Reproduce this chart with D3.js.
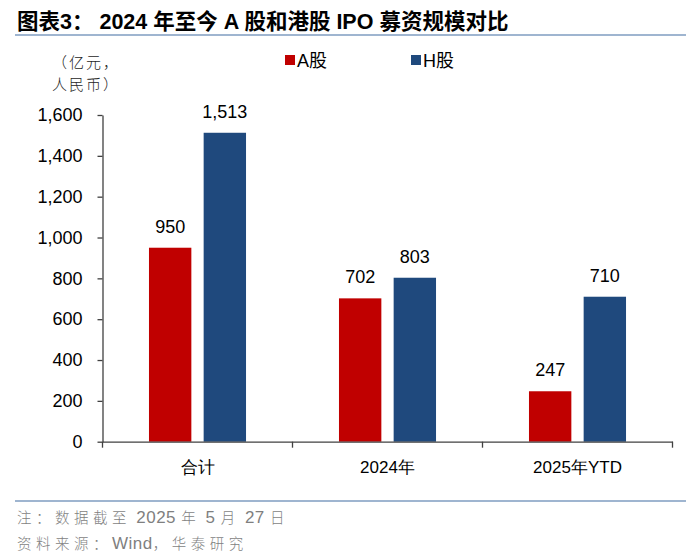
<!DOCTYPE html>
<html>
<head>
<meta charset="utf-8">
<script src="https://cdn.jsdelivr.net/npm/d3@7"></script>
<style>
  body { margin: 0; background: #fff; }
  svg { display: block; font-family: "Liberation Sans", Arial, "Noto Sans CJK SC", sans-serif; }
  .cjk { font-family: "Noto Sans CJK SC", sans-serif; }
</style>
</head>
<body>
<div id="chart"></div>
<script>
// data
const categories = ["合计", "2024年", "2025年YTD"];
const series = ["A股", "H股"];
const aShare = [950, 702, 247];
const hShare = [1513, 803, 710];
const yTicks = [0, 200, 400, 600, 800, 1000, 1200, 1400, 1600];
const colors = ["#C00000", "#1F497D"];

const width = 700, height = 560;
const margin = { top: 115, right: 27.5, bottom: 118.3, left: 102.5 };

const svg = d3.select("#chart")
  .append("svg")
  .attr("width", width)
  .attr("height", height);

// title + rule
svg.append("text")
  .attr("x", 17)
  .attr("y", 29)
  .style("font-size", "21.5px")
  .style("font-weight", "bold")
  .text("图表3：  2024 年至今 A 股和港股 IPO 募资规模对比");

svg.append("line")
  .attr("x1", 15).attr("x2", 686)
  .attr("y1", 35).attr("y2", 35)
  .attr("stroke", "#7f9cc0")
  .attr("stroke-width", 1.5);

// scales
const x = d3.scaleBand()
  .domain(categories)
  .range([margin.left, width - margin.right]);

const x1 = d3.scaleBand()
  .domain(series)
  .range([0, x.bandwidth()])
  .paddingInner(0.225)
  .paddingOuter(0.85);

const y = d3.scaleLinear()
  .domain([0, 1600])
  .range([height - margin.bottom, margin.top]);

// bars
const rows = categories.map((c, i) => ({ cat: c, vals: [aShare[i], hShare[i]] }));

const group = svg.append("g")
  .selectAll("g")
  .data(rows)
  .join("g")
  .attr("transform", d => `translate(${x(d.cat)},0)`);

group.selectAll("rect")
  .data(d => d.vals.map((v, j) => ({ key: series[j], v, j })))
  .join("rect")
  .attr("x", d => x1(d.key))
  .attr("width", x1.bandwidth())
  .attr("y", d => y(d.v))
  .attr("height", d => y(0) - y(d.v))
  .attr("fill", d => colors[d.j]);

group.selectAll("text.val")
  .data(d => d.vals.map((v, j) => ({ key: series[j], v })))
  .join("text")
  .attr("class", "val")
  .attr("x", d => x1(d.key) + x1.bandwidth() / 2)
  .attr("y", d => y(d.v) - 15)
  .attr("text-anchor", "middle")
  .style("font-size", "18px")
  .text(d => d3.format(",")(d.v));

// y axis
const yAxis = svg.append("g")
  .attr("transform", `translate(${margin.left},0)`)
  .call(d3.axisLeft(y)
    .tickValues(yTicks)
    .tickFormat(d3.format(","))
    .tickSize(5)
    .tickSizeOuter(0)
    .tickPadding(15));
yAxis.selectAll("path, line").attr("stroke", "#404040").attr("stroke-width", 1.3);
yAxis.selectAll("text")
  .style("font-size", "18px")
  .style("font-family", "'Liberation Sans', Arial, sans-serif")
  .attr("fill", "#000");

// x axis
const xAxis = svg.append("g")
  .attr("transform", `translate(0,${y(0)})`)
  .call(d3.axisBottom(x).tickSize(0).tickPadding(19));
xAxis.select("path").attr("stroke", "#404040").attr("stroke-width", 1.3);
xAxis.selectAll("text")
  .style("font-size", "17px")
  .attr("fill", "#000");

const edges = categories.map(c => x(c)).concat([x(categories[categories.length - 1]) + x.bandwidth()]);
xAxis.selectAll("line.edge")
  .data(edges)
  .join("line")
  .attr("class", "edge")
  .attr("x1", d => d).attr("x2", d => d)
  .attr("y1", 0).attr("y2", 6)
  .attr("stroke", "#404040")
  .attr("stroke-width", 1.3);

// unit label
["（亿元，", "人民币）"].forEach((t, i) => {
  svg.append("text")
    .attr("class", "cjk")
    .attr("x", 52).attr("y", 68 + i * 22)
    .style("font-size", "15px")
    .style("font-weight", 300)
    .style("letter-spacing", "2px")
    .attr("fill", "#262626")
    .text(t);
});

// legend
const legendX = [285, 411];
const legend = svg.append("g")
  .selectAll("g")
  .data(series)
  .join("g")
  .attr("transform", (d, i) => `translate(${legendX[i]},55)`);
legend.append("rect")
  .attr("width", 10).attr("height", 10)
  .attr("fill", (d, i) => colors[i]);
legend.append("text")
  .attr("x", 12).attr("y", 11.5)
  .style("font-size", "18px")
  .text(d => d);

// footer
svg.append("line")
  .attr("x1", 15).attr("x2", 686)
  .attr("y1", 501).attr("y2", 501)
  .attr("stroke", "#7f9cc0")
  .attr("stroke-width", 1.5);

// footer lines: CJK runs spaced out, latin/digit runs kept tight
const footLines = [
  ["注：数据截至", " 2025 ", "年", " 5 ", "月", " 27 ", "日"],
  ["资料来源：", "Wind", "，华泰研究"]
];
footLines.forEach((parts, i) => {
  const t = svg.append("text")
    .attr("x", 17).attr("y", 523 + i * 26)
    .attr("fill", "#7f7f7f");
  parts.forEach(p => {
    const latin = /^[\sA-Za-z0-9]+$/.test(p);
    t.append("tspan")
      .style("font-family", latin ? "'Liberation Sans', Arial, sans-serif" : "'Noto Sans CJK SC', sans-serif")
      .style("font-size", latin ? "17px" : "14.5px")
      .style("font-weight", latin ? 400 : 300)
      .style("letter-spacing", latin ? "0.5px" : "4.5px")
      .style("white-space", "pre")
      .text(p);
  });
});
</script>
</body>
</html>
